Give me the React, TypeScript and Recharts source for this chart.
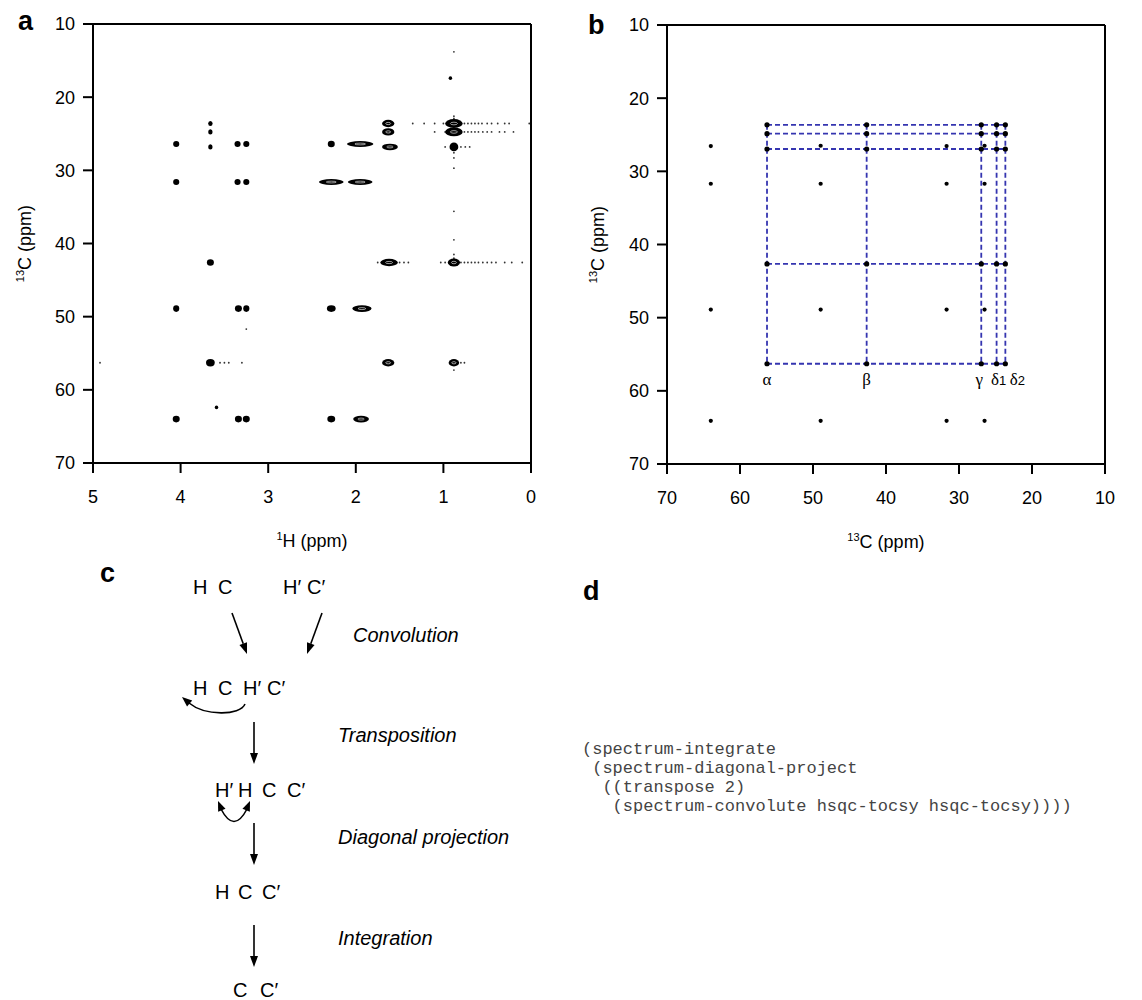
import React from 'react';
import { ScatterChart, Scatter, XAxis, YAxis, ReferenceLine } from 'recharts';

const FONT = '"Liberation Sans", Arial, Helvetica, sans-serif';
const SERIF = '"Liberation Serif", "Times New Roman", serif';
const MONO = '"Liberation Mono", "Courier New", monospace';

// ---- panel a: 1H-13C HSQC-TOCSY ----
const hTicks = [5, 4, 3, 2, 1, 0];
const cTicks = [10, 20, 30, 40, 50, 60, 70];

// h, c = peak centre (ppm); w, v = half widths in ppm (1H, 13C)
const hsqcTocsyPeaks = [
  { h: 3.66, c: 23.6, w: 0.025, v: 0.35 },
  { h: 3.66, c: 24.75, w: 0.025, v: 0.35 },
  { h: 3.66, c: 26.8, w: 0.025, v: 0.35 },
  { h: 1.63, c: 23.6, w: 0.07, v: 0.5 },
  { h: 1.63, c: 24.75, w: 0.07, v: 0.5 },
  { h: 1.61, c: 26.8, w: 0.09, v: 0.45 },
  { h: 0.88, c: 23.6, w: 0.1, v: 0.6 },
  { h: 0.88, c: 24.75, w: 0.1, v: 0.6 },
  { h: 0.88, c: 26.8, w: 0.05, v: 0.6 },
  { h: 4.05, c: 26.4, w: 0.035, v: 0.4 },
  { h: 3.35, c: 26.4, w: 0.035, v: 0.4 },
  { h: 3.25, c: 26.4, w: 0.035, v: 0.4 },
  { h: 2.28, c: 26.4, w: 0.04, v: 0.45 },
  { h: 1.95, c: 26.4, w: 0.15, v: 0.4 },
  { h: 4.05, c: 31.6, w: 0.035, v: 0.4 },
  { h: 3.35, c: 31.6, w: 0.035, v: 0.4 },
  { h: 3.25, c: 31.6, w: 0.035, v: 0.4 },
  { h: 2.28, c: 31.6, w: 0.14, v: 0.4 },
  { h: 1.95, c: 31.6, w: 0.14, v: 0.4 },
  { h: 3.66, c: 42.6, w: 0.04, v: 0.45 },
  { h: 1.62, c: 42.6, w: 0.1, v: 0.5 },
  { h: 0.88, c: 42.6, w: 0.07, v: 0.55 },
  { h: 4.05, c: 48.9, w: 0.035, v: 0.45 },
  { h: 3.34, c: 48.9, w: 0.04, v: 0.45 },
  { h: 3.25, c: 48.9, w: 0.035, v: 0.45 },
  { h: 2.28, c: 48.9, w: 0.05, v: 0.45 },
  { h: 1.93, c: 48.9, w: 0.11, v: 0.45 },
  { h: 3.66, c: 56.3, w: 0.05, v: 0.5 },
  { h: 1.63, c: 56.3, w: 0.07, v: 0.5 },
  { h: 0.88, c: 56.3, w: 0.06, v: 0.5 },
  { h: 4.05, c: 64.0, w: 0.04, v: 0.45 },
  { h: 3.34, c: 64.0, w: 0.04, v: 0.45 },
  { h: 3.25, c: 64.0, w: 0.04, v: 0.45 },
  { h: 2.28, c: 64.0, w: 0.045, v: 0.45 },
  { h: 1.94, c: 64.0, w: 0.09, v: 0.45 },
  { h: 3.59, c: 62.4, w: 0.02, v: 0.25 },
  { h: 0.92, c: 17.4, w: 0.02, v: 0.25 },
];

// t1 noise / weak points
const noisePoints = [
  { h: 1.35, c: 23.6 }, { h: 1.22, c: 23.6 }, { h: 1.1, c: 23.6 }, { h: 1.0, c: 23.6 }, { h: 0.96, c: 23.6 },
  { h: 0.8, c: 23.6 }, { h: 0.76, c: 23.6 }, { h: 0.72, c: 23.6 }, { h: 0.68, c: 23.6 },
  { h: 0.64, c: 23.6 }, { h: 0.6, c: 23.6 }, { h: 0.56, c: 23.6 }, { h: 0.5, c: 23.6 },
  { h: 0.45, c: 23.6 }, { h: 0.38, c: 23.6 }, { h: 0.3, c: 23.6 }, { h: 0.25, c: 23.6 },
  { h: 0.02, c: 23.6 },
  { h: 1.1, c: 24.75 }, { h: 0.98, c: 24.75 }, { h: 0.8, c: 24.75 }, { h: 0.76, c: 24.75 },
  { h: 0.72, c: 24.75 }, { h: 0.68, c: 24.75 }, { h: 0.64, c: 24.75 }, { h: 0.6, c: 24.75 },
  { h: 0.55, c: 24.75 }, { h: 0.5, c: 24.75 }, { h: 0.45, c: 24.75 }, { h: 0.36, c: 24.75 },
  { h: 0.3, c: 24.75 }, { h: 0.2, c: 24.75 },
  { h: 0.98, c: 26.8 }, { h: 0.8, c: 26.8 }, { h: 0.75, c: 26.8 }, { h: 0.7, c: 26.8 },
  { h: 1.03, c: 42.6 }, { h: 0.98, c: 42.6 }, { h: 0.8, c: 42.6 }, { h: 0.76, c: 42.6 },
  { h: 0.72, c: 42.6 }, { h: 0.68, c: 42.6 }, { h: 0.64, c: 42.6 }, { h: 0.6, c: 42.6 },
  { h: 0.55, c: 42.6 }, { h: 0.5, c: 42.6 }, { h: 0.45, c: 42.6 }, { h: 0.4, c: 42.6 },
  { h: 0.3, c: 42.6 }, { h: 0.22, c: 42.6 }, { h: 0.1, c: 42.6 },
  { h: 1.75, c: 42.6 }, { h: 1.5, c: 42.6 }, { h: 1.45, c: 42.6 }, { h: 1.4, c: 42.6 },
  { h: 3.55, c: 56.3 }, { h: 3.5, c: 56.3 }, { h: 3.45, c: 56.3 }, { h: 3.3, c: 56.3 },
  { h: 0.8, c: 56.3 }, { h: 0.76, c: 56.3 },
  { h: 0.88, c: 13.8 }, { h: 0.88, c: 22.6 }, { h: 0.88, c: 22.9 }, { h: 0.88, c: 27.6 },
  { h: 0.88, c: 28.3 }, { h: 0.88, c: 29.7 }, { h: 0.88, c: 35.6 }, { h: 0.88, c: 39.5 },
  { h: 0.88, c: 41.5 }, { h: 0.88, c: 42.0 }, { h: 0.88, c: 57.3 },
  { h: 4.92, c: 56.3 }, { h: 3.25, c: 51.7 },
];

// ---- panel b: 13C-13C projection ----
const cTicksB = [70, 60, 50, 40, 30, 20, 10];
// spin system with assignments (13C ppm)
const assigned = [56.3, 42.65, 26.95, 24.85, 23.65];
const assignedLabels = ['α', 'β', 'γ', 'δ1', 'δ2'];

const assignedPeaks = [
  { x: 56.3, y: 23.65 }, { x: 42.65, y: 23.65 }, { x: 26.95, y: 23.65 }, { x: 24.85, y: 23.65 }, { x: 23.65, y: 23.65 },
  { x: 56.3, y: 24.85 }, { x: 42.65, y: 24.85 }, { x: 26.95, y: 24.85 }, { x: 24.85, y: 24.85 }, { x: 23.65, y: 24.85 },
  { x: 56.3, y: 26.95 }, { x: 42.65, y: 26.95 }, { x: 26.95, y: 26.95 }, { x: 24.85, y: 26.95 }, { x: 23.65, y: 26.95 },
  { x: 56.3, y: 42.65 }, { x: 42.65, y: 42.65 }, { x: 26.95, y: 42.65 }, { x: 24.85, y: 42.65 }, { x: 23.65, y: 42.65 },
  { x: 56.3, y: 56.3 }, { x: 42.65, y: 56.3 }, { x: 26.95, y: 56.3 }, { x: 24.85, y: 56.3 }, { x: 23.65, y: 56.3 },
];

const otherPeaks = [
  { x: 64.0, y: 26.55 }, { x: 48.95, y: 26.5 }, { x: 31.7, y: 26.55 }, { x: 26.5, y: 26.5 },
  { x: 64.0, y: 31.7 }, { x: 48.95, y: 31.7 }, { x: 31.7, y: 31.7 }, { x: 26.5, y: 31.7 },
  { x: 64.0, y: 48.9 }, { x: 48.95, y: 48.9 }, { x: 31.7, y: 48.9 }, { x: 26.5, y: 48.9 },
  { x: 64.0, y: 64.1 }, { x: 48.95, y: 64.1 }, { x: 31.7, y: 64.1 }, { x: 26.5, y: 64.1 },
];

const labelPoints = assigned.map((x, i) => ({ x, y: 56.3, label: assignedLabels[i] }));

// ---- panel c / d text ----
const codeLines = [
  '(spectrum-integrate',
  ' (spectrum-diagonal-project',
  '  ((transpose 2)',
  '   (spectrum-convolute hsqc-tocsy hsqc-tocsy))))',
];

const PX_PER_H = 438 / 5;
const PX_PER_C = 439 / 60;

const axisProps = {
  axisLine: { stroke: '#000', strokeWidth: 2 },
  tickLine: { stroke: '#000', strokeWidth: 2 },
  tick: { fill: '#000', fontSize: 18, fontFamily: FONT },
  tickSize: 10,
};

const PeakShape = (props: any) => {
  const { cx, cy, payload } = props;
  const rx = Math.max(1.5, payload.w * PX_PER_H);
  const ry = Math.max(1.5, payload.v * PX_PER_C);
  return (
    <g>
      <ellipse cx={cx} cy={cy} rx={rx} ry={ry} fill="#000" />
      {rx > 5 && <ellipse cx={cx} cy={cy} rx={rx * 0.4} ry={ry * 0.3} fill="none" stroke="#fff" strokeWidth={0.6} />}
    </g>
  );
};

const NoiseShape = (props: any) => <circle cx={props.cx} cy={props.cy} r={0.9} fill="#333" />;
const BigDot = (props: any) => <circle cx={props.cx} cy={props.cy} r={2.6} fill="#000" />;
const SmallDot = (props: any) => <circle cx={props.cx} cy={props.cy} r={2.1} fill="#000" />;

const labelDx: Record<string, number> = { 'α': 0, 'β': 0, 'γ': -2, 'δ1': 2, 'δ2': 12 };
const GreekLabel = (props: any) => {
  const { cx, cy, payload } = props;
  const greek = payload.label.charAt(0);
  const sub = payload.label.slice(1);
  return (
    <text x={cx + labelDx[payload.label]} y={cy + 21} textAnchor="middle" fontSize={17} fontFamily={SERIF} fill="#000">
      {greek}
      {sub && <tspan fontFamily={FONT} fontSize={13}>{sub}</tspan>}
    </text>
  );
};

const xTitle = (sup: string, base: string) => (props: any) => {
  const { x, y, width } = props.viewBox;
  return (
    <text x={x + width / 2} y={y + 84} textAnchor="middle" fontSize={18} fontFamily={FONT} fill="#000">
      <tspan fontSize={11} dy={-7}>{sup}</tspan>
      <tspan dy={7}>{base} (ppm)</tspan>
    </text>
  );
};

const yTitle = (offset: number) => (props: any) => {
  const { x, y, height } = props.viewBox;
  const tx = x + offset;
  const ty = y + height / 2;
  return (
    <text x={tx} y={ty} transform={`rotate(-90, ${tx}, ${ty})`} textAnchor="middle" fontSize={18} fontFamily={FONT} fill="#000">
      <tspan fontSize={11} dy={-7}>13</tspan>
      <tspan dy={7}>C (ppm)</tspan>
    </text>
  );
};

const Arrow = ({ x1, y1, x2, y2 }: { x1: number; y1: number; x2: number; y2: number }) => {
  const a = Math.atan2(y2 - y1, x2 - x1);
  const L = 11, W = 4;
  const bx = x2 - L * Math.cos(a), by = y2 - L * Math.sin(a);
  const p = `${x2},${y2} ${bx + W * Math.sin(a)},${by - W * Math.cos(a)} ${bx - W * Math.sin(a)},${by + W * Math.cos(a)}`;
  return (
    <g>
      <line x1={x1} y1={y1} x2={bx} y2={by} stroke="#000" strokeWidth={1.6} />
      <polygon points={p} fill="#000" />
    </g>
  );
};

const Head = ({ x, y, fx, fy }: { x: number; y: number; fx: number; fy: number }) => {
  const a = Math.atan2(y - fy, x - fx);
  const L = 10, W = 4;
  const bx = x - L * Math.cos(a), by = y - L * Math.sin(a);
  const p = `${x},${y} ${bx + W * Math.sin(a)},${by - W * Math.cos(a)} ${bx - W * Math.sin(a)},${by + W * Math.cos(a)}`;
  return <polygon points={p} fill="#000" />;
};

const Tok = ({ x, y, t }: { x: number; y: number; t: string }) => (
  <text x={x} y={y} fontSize={20} fontFamily={FONT} fill="#000">{t}</text>
);

const Step = ({ x, y, t }: { x: number; y: number; t: string }) => (
  <text x={x} y={y} fontSize={20} fontStyle="italic" fontFamily={FONT} fill="#000">{t}</text>
);

export default function App() {
  return (
    <div style={{ position: 'absolute', left: 0, top: 0, width: 1142, height: 1000, background: '#fff', overflow: 'hidden' }}>
      {/* panel a */}
      <div style={{ position: 'absolute', left: 0, top: 0 }}>
        <ScatterChart width={560} height={560} margin={{ top: 24, right: 29, bottom: 0, left: 0 }}>
          <XAxis type="number" dataKey="h" domain={[0, 5]} reversed ticks={hTicks} height={97} tickMargin={17}
            {...axisProps} label={xTitle('1', 'H')} />
          <YAxis type="number" dataKey="c" domain={[10, 70]} reversed ticks={cTicks} width={93} tickMargin={8}
            {...axisProps} label={yTitle(31)} />
          <ReferenceLine y={10} stroke="#000" strokeWidth={2} />
          <ReferenceLine x={0} stroke="#000" strokeWidth={2} />
          <Scatter data={noisePoints} shape={NoiseShape} isAnimationActive={false} />
          <Scatter data={hsqcTocsyPeaks} shape={PeakShape} isAnimationActive={false} />
        </ScatterChart>
      </div>

      {/* panel b */}
      <div style={{ position: 'absolute', left: 560, top: 0 }}>
        <ScatterChart width={570} height={560} margin={{ top: 25, right: 25, bottom: 0, left: 0 }}>
          <XAxis type="number" dataKey="x" domain={[10, 70]} reversed ticks={cTicksB} height={96} tickMargin={17}
            {...axisProps} label={xTitle('13', 'C')} />
          <YAxis type="number" dataKey="y" domain={[10, 70]} reversed ticks={cTicks} width={107} tickMargin={8}
            {...axisProps} label={yTitle(44)} />
          <ReferenceLine y={10} stroke="#000" strokeWidth={2} />
          <ReferenceLine x={10} stroke="#000" strokeWidth={2} />
          {assigned.map((v) => (
            <ReferenceLine key={`v${v}`} segment={[{ x: v, y: assigned[4] }, { x: v, y: assigned[0] }]}
              stroke="#3535b0" strokeWidth={1.8} strokeDasharray="5 3" />
          ))}
          {assigned.map((v) => (
            <ReferenceLine key={`h${v}`} segment={[{ x: assigned[0], y: v }, { x: assigned[4], y: v }]}
              stroke="#3535b0" strokeWidth={1.8} strokeDasharray="5 3" />
          ))}
          <Scatter data={otherPeaks} shape={SmallDot} isAnimationActive={false} />
          <Scatter data={assignedPeaks} shape={BigDot} isAnimationActive={false} />
          <Scatter data={labelPoints} shape={GreekLabel} isAnimationActive={false} />
        </ScatterChart>
      </div>

      {/* panel letters, scheme c and script d */}
      <svg width={1142} height={1000} style={{ position: 'absolute', left: 0, top: 0, pointerEvents: 'none' }}>
        <text x={18} y={30} fontSize={27} fontWeight="bold" fontFamily={FONT}>a</text>
        <text x={588} y={34} fontSize={27} fontWeight="bold" fontFamily={FONT}>b</text>
        <text x={100} y={582} fontSize={27} fontWeight="bold" fontFamily={FONT}>c</text>
        <text x={583} y={600} fontSize={27} fontWeight="bold" fontFamily={FONT}>d</text>

        <Tok x={193} y={594} t="H" />
        <Tok x={218} y={594} t="C" />
        <Tok x={283} y={594} t="H′" />
        <Tok x={307} y={594} t="C′" />
        <Arrow x1={232} y1={613} x2={247} y2={654} />
        <Arrow x1={322} y1={613} x2={307} y2={654} />
        <Step x={353} y={642} t="Convolution" />

        <Tok x={193} y={695} t="H" />
        <Tok x={218} y={695} t="C" />
        <Tok x={243} y={695} t="H′" />
        <Tok x={267} y={695} t="C′" />
        <path d="M245,704 C240,716 205,716 189,703" fill="none" stroke="#000" strokeWidth={1.6} />
        <Head x={182} y={697} fx={195} fy={708} />
        <Arrow x1={254} y1={722} x2={254} y2={764} />
        <Step x={338} y={742} t="Transposition" />

        <Tok x={215} y={797} t="H′" />
        <Tok x={238} y={797} t="H" />
        <Tok x={262} y={797} t="C" />
        <Tok x={287} y={797} t="C′" />
        <path d="M221,809 Q234,834 247,809" fill="none" stroke="#000" strokeWidth={1.6} />
        <Head x={218} y={801} fx={223} fy={813} />
        <Head x={250} y={801} fx={245} fy={813} />
        <Arrow x1={254} y1={823} x2={254} y2={865} />
        <Step x={338} y={844} t="Diagonal projection" />

        <Tok x={215} y={899} t="H" />
        <Tok x={238} y={899} t="C" />
        <Tok x={262} y={899} t="C′" />
        <Arrow x1={254} y1={925} x2={254} y2={967} />
        <Step x={338} y={945} t="Integration" />

        <Tok x={233} y={997} t="C" />
        <Tok x={260} y={997} t="C′" />

        {codeLines.map((line, i) => (
          <text key={i} x={582} y={754 + i * 19} xmlSpace="preserve" fontSize={17} fontFamily={MONO} fill="#444">{line}</text>
        ))}
      </svg>
    </div>
  );
}
